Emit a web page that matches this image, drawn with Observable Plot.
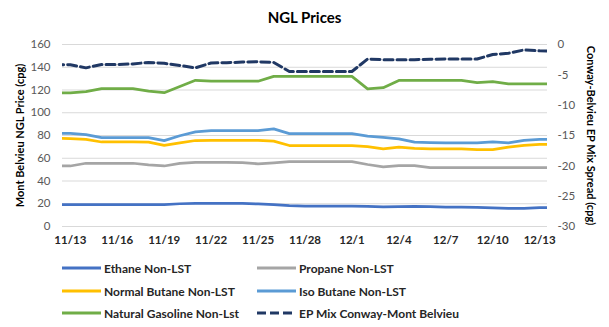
<!DOCTYPE html>
<html>
<head>
<meta charset="utf-8">
<script src="https://cdn.jsdelivr.net/npm/d3@7"></script>
<script src="https://cdn.jsdelivr.net/npm/@observablehq/plot@0.6"></script>
<style>
  html, body { margin: 0; padding: 0; background: #fff; }
  #wrap { position: relative; width: 609px; height: 327px; font-family: Lato, "Open Sans", sans-serif; overflow: hidden; }
  #title { position: absolute; left: 0; top: 7px; width: 609px; text-align: center; font-size: 15px; font-weight: bold; color: #000; line-height: 20px; }
  #chart { position: absolute; left: 0; top: 30px; }
  .lg { position: absolute; height: 14px; display: flex; align-items: center; font-size: 12px; font-weight: bold; color: #262626; white-space: nowrap; }
  .lg svg { margin-right: 3px; }
</style>
</head>
<body>
<div id="wrap">
  <div id="title">NGL Prices</div>
  <div id="chart"></div>
  <div id="legend"></div>
</div>
<script>
// Dates (11/12 and 12/14 are the partially visible edge readings)
const dayLabels = ["11/12","11/13","11/14","11/15","11/16","11/17","11/18","11/19","11/20","11/21","11/22","11/23","11/24","11/25","11/26","11/27","11/28","11/29","11/30","12/1","12/2","12/3","12/4","12/5","12/6","12/7","12/8","12/9","12/10","12/11","12/12","12/13","12/14"];
const tickLabels = ["11/13","11/16","11/19","11/22","11/25","11/28","12/1","12/4","12/7","12/10","12/13"];
const leftTicks = [0, 20, 40, 60, 80, 100, 120, 140, 160];
const rightTicks = [0, -5, -10, -15, -20, -25, -30];

const ethane = [19.3,19.3,19.3,19.3,19.3,19.3,19.3,19.3,20.0,20.4,20.4,20.4,20.4,19.8,19.3,18.3,18.0,18.0,18.0,18.0,17.6,17.2,17.4,17.8,17.4,17.0,17.0,16.8,16.4,15.9,15.9,16.6,16.8];
const propane = [53.2,53.2,55.6,55.6,55.6,55.6,54.1,53.2,55.5,56.4,56.4,56.4,56.2,55.1,56.0,57.0,57.0,57.0,57.0,57.0,54.5,52.4,53.6,53.6,51.8,51.8,51.8,51.8,51.8,51.8,51.8,51.8,51.8];
const normalButane = [77.5,77.3,76.5,74.3,74.3,74.3,74.1,71.3,73.6,75.6,75.8,75.8,75.8,75.8,75.0,71.2,71.2,71.2,71.2,71.2,70.3,68.3,69.7,68.6,68.3,68.3,68.3,67.6,67.6,69.7,71.3,72.1,72.2];
const isoButane = [81.9,81.8,80.8,78.2,78.2,78.2,78.2,75.5,79.8,83.2,84.2,84.2,84.2,84.2,85.8,81.7,81.7,81.7,81.7,81.7,79.5,78.3,77.1,74.1,73.8,73.6,73.6,73.6,74.3,73.5,75.7,76.6,76.8];
const natGasoline = [117.3,117.5,118.6,121.2,121.2,121.2,119.0,117.6,123.0,128.5,127.7,127.7,127.7,127.7,132.0,132.0,132.0,132.0,132.0,132.0,121.0,122.0,128.4,128.4,128.4,128.4,128.4,126.5,127.3,125.4,125.4,125.4,125.4];
const epMix = [-3.3,-3.35,-3.85,-3.3,-3.3,-3.2,-2.95,-3.1,-3.45,-3.85,-3.05,-3.0,-2.9,-2.85,-2.95,-4.45,-4.45,-4.45,-4.45,-4.45,-2.4,-2.5,-2.5,-2.5,-2.45,-2.4,-2.4,-2.4,-1.65,-1.45,-0.9,-1.05,-1.1];

const seriesNames = ["Ethane Non-LST","Propane Non-LST","Normal Butane Non-LST","Iso Butane Non-LST","Natural Gasoline Non-Lst","EP Mix Conway-Mont Belvieu"];
const seriesColors = ["#4472C4","#A5A5A5","#FFC000","#5B9BD5","#70AD47","#203864"];

const parse = s => { const [m, d] = s.split("/").map(Number); return new Date(Date.UTC(2018, m - 1, d)); };
const dates = dayLabels.map(parse);
const HALF = 12 * 3600 * 1000;

// secondary axis mapping: [-30, 0] -> [0, 160]
const toLeft = v => (v + 30) * 160 / 30;
const fromLeft = v => Math.round(v * 30 / 160 - 30);

const primary = [ethane, propane, normalButane, isoButane, natGasoline];
const rows = [];
primary.forEach((arr, k) => arr.forEach((v, i) => rows.push({date: dates[i], value: v, series: seriesNames[k]})));
const epRows = epMix.map((v, i) => ({date: dates[i], value: toLeft(v)}));

const chart = Plot.plot({
  width: 609,
  height: 225,
  marginTop: 14,
  marginBottom: 29,
  marginLeft: 62,
  marginRight: 62,
  style: {fontFamily: "Lato, 'Open Sans', sans-serif", fontSize: "11px", background: "transparent", overflow: "visible"},
  x: {type: "utc", domain: [new Date(+parse(tickLabels[0]) - HALF), new Date(+parse(tickLabels[tickLabels.length - 1]) + HALF)]},
  y: {domain: [0, 160]},
  color: {domain: seriesNames, range: seriesColors},
  marks: [
    Plot.gridY(leftTicks, {stroke: "#D9D9D9", strokeOpacity: 1, strokeWidth: 1}),
    Plot.axisY(leftTicks, {anchor: "left", tickSize: 0, tickPadding: 12, fill: "#595959", label: null, fontSize: 11.5, tickFormat: d => String(d)}),
    Plot.axisY(rightTicks.map(toLeft), {anchor: "right", tickSize: 0, tickPadding: 10, fill: "#595959", label: null, fontSize: 11.5, tickFormat: v => String(fromLeft(v))}),
    Plot.axisX(tickLabels.map(parse), {anchor: "bottom", tickSize: 0, tickPadding: 9, fill: "#262626", fontWeight: "bold", fontSize: 11.5, label: null,
      tickFormat: d => `${d.getUTCMonth() + 1}/${d.getUTCDate()}`}),
    Plot.line(rows, {x: "date", y: "value", z: "series", stroke: "series", strokeWidth: 2.75, clip: true, strokeLinejoin: "round"}),
    Plot.line(epRows, {x: "date", y: "value", stroke: seriesColors[5], strokeWidth: 3, strokeDasharray: "9,4", clip: true}),
    Plot.text(["Mont Belvieu NGL Price (cpg)"], {frameAnchor: "left", dx: -42, rotate: -90, textAnchor: "middle", fontWeight: "bold", fill: "#000", fontSize: 11}),
    Plot.text(["Conway-Belvieu EP Mix Spread (cpg)"], {frameAnchor: "right", dx: 43, rotate: 90, textAnchor: "middle", fontWeight: "bold", fill: "#000", fontSize: 11})
  ]
});
document.getElementById("chart").appendChild(chart);

// Legend
const legend = document.getElementById("legend");
const colX = [62, 257];
const rowY = [261, 284, 306];
seriesNames.forEach((name, i) => {
  const item = document.createElement("div");
  item.className = "lg";
  item.style.left = colX[i % 2] + "px";
  item.style.top = rowY[Math.floor(i / 2)] + "px";
  const dash = i === 5 ? ' stroke-dasharray="9,4"' : '';
  item.innerHTML = `<svg width="39" height="6"><line x1="0" y1="3" x2="39" y2="3" stroke="${seriesColors[i]}" stroke-width="3"${dash}/></svg><span>${name}</span>`;
  legend.appendChild(item);
});
</script>
</body>
</html>
